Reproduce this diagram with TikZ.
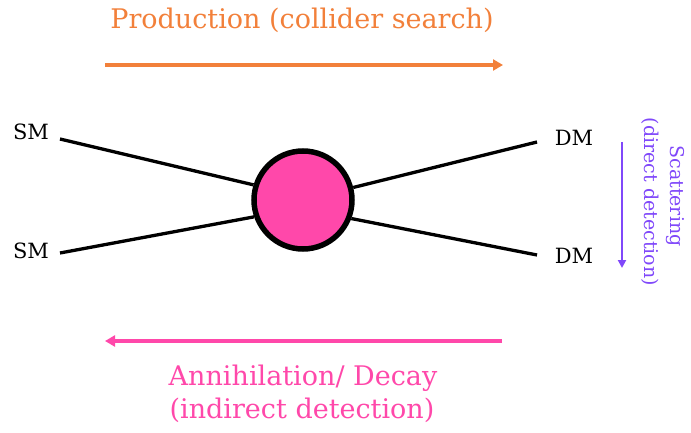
\documentclass[tikz,border=0pt]{standalone}
\usepackage{fontspec}
\setmainfont{DejaVu Serif}
\usetikzlibrary{arrows.meta}
\definecolor{orng}{RGB}{242,128,58}
\definecolor{pnk}{RGB}{255,72,170}
\definecolor{prpl}{RGB}{128,72,250}
\tikzset{
  lbl/.style={inner sep=0pt, anchor=base, font=\fontsize{21}{24}\selectfont},
  leg/.style={line width=3.3pt, black},
  arr/.style={line width=3.3pt, -{Triangle[length=10pt,width=11pt]}},
  big/.style={inner sep=0pt, anchor=base, font=\fontsize{27}{32}\selectfont},
  vtxt/.style={inner sep=0pt, text=prpl, rotate=-90, font=\fontsize{19}{22}\selectfont},
}
\begin{document}
\begin{tikzpicture}[x=1pt,y=-1pt]
\useasboundingbox (0,0) rectangle (691,433);
\node[big, text=orng] (prod) at (302,29) {Production (collider search)};
\coordinate (pa) at (105,65);
\coordinate (pb) at (503,65);
\draw[arr, orng] (pa) -- (pb);

\node[circle, draw=black, line width=5.5pt, fill=pnk, minimum size=98pt, inner sep=0pt] (blob) at (303,200) {};

\node[lbl] (sm1) at (31,140) {SM};
\node[lbl] (sm2) at (31,258) {SM};
\node[lbl] (dm1) at (574,146) {DM};
\node[lbl] (dm2) at (574,263) {DM};

\coordinate (a1) at (60,139);
\coordinate (a2) at (60,253);
\coordinate (b1) at (537,142);
\coordinate (b2) at (537,255);
\draw[leg] (a1) -- (blob.163);
\draw[leg] (a2) -- (blob.199);
\draw[leg] (b1) -- (blob.14);
\draw[leg] (b2) -- (blob.-21);

\coordinate (sa) at (622,142);
\coordinate (sb) at (622,268);
\draw[prpl, line width=2.2pt, -{Triangle[length=8pt,width=8pt]}] (sa) -- (sb);
\node[vtxt] (scat) at (675,196) {Scattering};
\node[vtxt] (dd) at (650,202) {(direct detection)};

\coordinate (ka) at (502,341);
\coordinate (kb) at (105,341);
\draw[arr, pnk] (ka) -- (kb);
\node[big, text=pnk] (ann) at (303,385) {Annihilation/ Decay};
\node[big, text=pnk] (ind) at (302,418) {(indirect detection)};
\end{tikzpicture}
\end{document}
